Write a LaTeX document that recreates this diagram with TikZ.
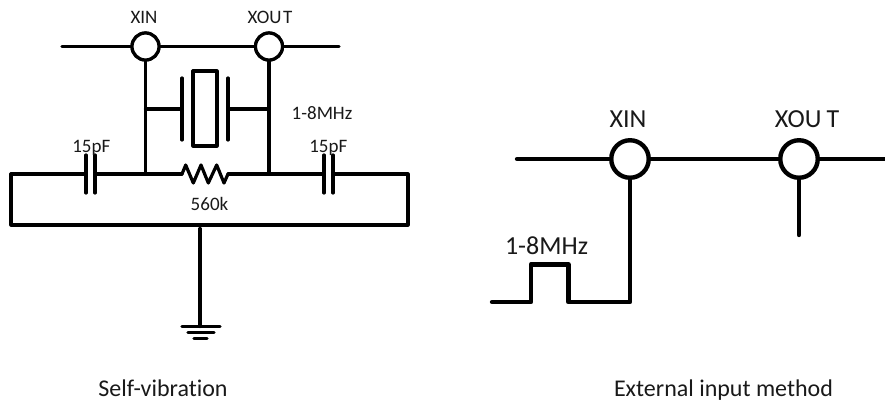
\documentclass[tikz,border=0pt]{standalone}
\usepackage{fontspec}
\setmainfont[Ligatures=NoCommon]{Carlito}
\tikzset{
  wa/.style={line width=3.2pt,line cap=round,line join=round,black},
  wb/.style={line width=4.4pt,line cap=round,line join=round,black},
  pinA/.style={circle,draw=black,fill=white,line width=3.2pt,minimum size=27pt,inner sep=0pt},
  pinB/.style={circle,draw=black,fill=white,line width=4.4pt,minimum size=37.5pt,inner sep=0pt},
  lblS/.style={inner sep=0pt,anchor=base,font=\fontsize{19}{22}\selectfont,text=black!90},
  lblL/.style={inner sep=0pt,anchor=base,font=\fontsize{26}{30}\selectfont,text=black!90},
  lblC/.style={inner sep=0pt,anchor=base,font=\fontsize{24}{28}\selectfont,text=black!90}
}
\begin{document}
\begin{tikzpicture}[x=1pt,y=-1pt]
\useasboundingbox (0,0) rectangle (885,401);
\coordinate (LL) at (62,46.5);
\coordinate (LR) at (339,46.5);
\node[pinA] (xinA) at (145.5,46.5) {};
\node[pinA] (xoutA) at (269,46.5) {};
\coordinate (jA) at (145.5,174);
\coordinate (jB) at (269,174);
\coordinate (sA) at (145.5,109);
\coordinate (sB) at (269,109);
\coordinate (pA) at (182,109);
\coordinate (pB) at (228,109);
\coordinate (c1a) at (86,174);
\coordinate (c1b) at (95,174);
\coordinate (c2a) at (324,174);
\coordinate (c2b) at (333,174);
\coordinate (rA) at (182,174);
\coordinate (rB) at (228,174);
\coordinate (g0) at (200,228.5);
\coordinate (g1) at (200,326.5);
\draw[wa] (LL) -- (xinA) -- (xoutA) -- (LR);
\draw[wa] (xinA.south) -- (jA);
\draw[wa] (xoutA.south) -- (jB);
\node[pinA] at (xinA) {};
\node[pinA] at (xoutA) {};
\draw[wa] (sA) -- (pA);
\draw[wa] (sB) -- (pB);
\draw[wa] (182,78) -- (182,140);
\draw[wa] (228,78) -- (228,140);
\draw[wa] (193,71) rectangle (217,146);
\draw[wa] (c1a) -- (11,174) -- (11,225) -- (408,225) -- (408,174) -- (c2b);
\draw[wa] (c1b) -- (jA) -- (rA);
\draw[wa] (rB) -- (jB) -- (c2a);
\draw[wa] (86,155) -- (86,193);
\draw[wa] (95,155) -- (95,193);
\draw[wa] (324,155) -- (324,193);
\draw[wa] (333,155) -- (333,193);
\draw[wa] (rA) -- (185.7,165) -- (193.3,183) -- (201,165) -- (208.3,183) -- (216.7,165) -- (224,183) -- (rB);
\draw[wa] (g0) -- (g1);
\draw[wa] (182,326.5) -- (220,326.5);
\draw[wa] (188,332.5) -- (214,332.5);
\draw[wa] (194,338.5) -- (207,338.5);
\node[lblS] (tXinA) at (144,24) {XIN};
\node[lblS] (tXoutA) at (270,24) {XOU\kern1.5pt T};
\node[lblS] (tF) at (322,119) {1-8MHz};
\node[lblS] (tC1) at (91.3,152) {15pF};
\node[lblS] (tC2) at (328.3,152) {15pF};
\node[lblS] (tR) at (209.5,210) {560k};
\node[lblC] (tSelf) at (163,396) {Self-vibration};
\coordinate (RL) at (517,159);
\coordinate (RR) at (885,159);
\coordinate (w0) at (492,302);
\coordinate (w5) at (630,302);
\coordinate (st) at (799,235);
\draw[wb] (RL) -- (RR);
\draw[wb] (630,159) -- (w5) -- (568.3,302) -- (568.3,264.3) -- (531,264.3) -- (531,302) -- (w0);
\draw[wb] (799,159) -- (st);
\node[pinB] (xinB) at (630,159) {};
\node[pinB] (xoutB) at (799,159) {};
\node[lblL] (tXinB) at (628,128) {XIN};
\node[lblL] (tXoutB) at (807,128) {XOU\kern5pt T};
\node[lblL] (tFb) at (546.5,254) {1-8MHz};
\node[lblC] (tExt) at (723.5,396) {External input method};
\end{tikzpicture}
\end{document}
